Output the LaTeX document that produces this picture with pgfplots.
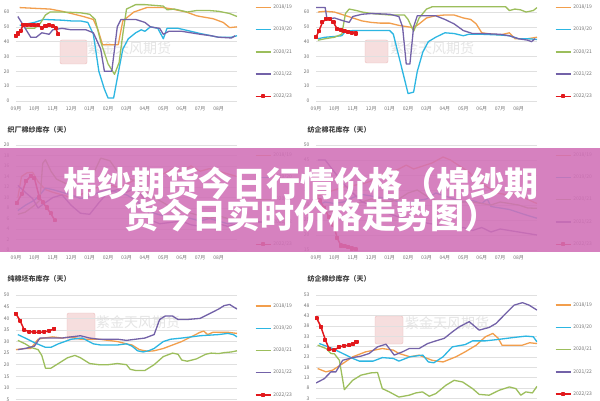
\documentclass[border=0pt]{standalone}
\usepackage{pgfplots}
\pgfplotsset{compat=1.18}
\usepackage{fontspec}
\setmainfont{Noto Sans CJK SC}

\definecolor{c18}{RGB}{242,158,76}
\definecolor{c19}{RGB}{44,182,226}
\definecolor{c20}{RGB}{156,190,92}
\definecolor{c21}{RGB}{115,98,168}
\definecolor{c22}{RGB}{226,24,28}
\definecolor{banner}{RGB}{209,112,183}
\definecolor{wmpink}{RGB}{246,222,222}
\definecolor{wmline}{RGB}{236,190,190}

\pgfplotsset{
  mini/.style={
    scale only axis, width=221pt,
    xmin=0, xmax=12,
    xtick={0,...,11},
    xticklabels={09月,10月,11月,12月,01月,02月,03月,04月,05月,06月,07月,08月},
    axis line style={draw=none},
    major tick length=0pt,
    ymajorgrids, grid style={black!12, line width=0.4pt},
    tick label style={font=\fontsize{5}{6}\selectfont, text=black!55},
    /pgf/number format/assume math mode=true,
    xticklabel style={yshift=-2pt},
    yticklabel style={xshift=-3pt},
    legend cell align=left,
    legend style={at={(1.08,0.95)}, anchor=north west, draw=none, fill=none,
      font=\fontsize{5}{6}\selectfont, text=black!55, row sep=12.8pt,
      inner sep=0pt},
    legend image code/.code={\draw[mark repeat=2,mark phase=2,##1]
      plot coordinates {(0pt,0pt) (7.5pt,0pt) (15pt,0pt)};},
    every axis plot/.append style={line width=1.3pt, line join=round},
  },
  s18/.style={c18, no markers},
  s19/.style={c19, no markers},
  s20/.style={c20, no markers},
  s21/.style={c21, no markers},
  s22/.style={c22, mark=square*, mark size=1.3pt, line width=1.5pt},
}

\begin{document}
\begin{tikzpicture}
\path[use as bounding box] (0pt,0pt) rectangle (600pt,400pt);
\clip (0pt,0pt) rectangle (600pt,400pt);
\fill[white] (0pt,0pt) rectangle (600pt,400pt);

% watermarks
\filldraw[fill=wmpink, draw=wmline, rounded corners=2pt] (60pt,336pt) rectangle (87pt,360pt);
\node[text=black!10, font=\fontsize{14}{14}\selectfont] at (129pt,352pt) {紫金天风期货};
\filldraw[fill=wmpink, draw=wmline, rounded corners=2pt] (365pt,337pt) rectangle (388pt,360pt);
\node[text=black!10, font=\fontsize{14}{14}\selectfont] at (432pt,352pt) {紫金天风期货};
\filldraw[fill=wmpink, draw=wmline, rounded corners=2pt] (67pt,60pt) rectangle (95pt,87pt);
\node[text=black!10, font=\fontsize{14}{14}\selectfont] at (138pt,78pt) {紫金天风期货};
\filldraw[fill=wmpink, draw=wmline, rounded corners=2pt] (375pt,56pt) rectangle (403pt,84pt);
\node[text=black!10, font=\fontsize{14}{14}\selectfont] at (447pt,77pt) {紫金天风期货};

% titles
\node[anchor=west, text=black!75, font=\fontsize{7}{8}\selectfont\bfseries] at (4pt,270pt) {织厂棉纱库存（天）};
\node[anchor=west, text=black!75, font=\fontsize{7}{8}\selectfont\bfseries] at (304pt,270pt) {纺企棉花库存（天）};
\node[anchor=west, text=black!75, font=\fontsize{7}{8}\selectfont\bfseries] at (4pt,121pt) {纯棉坯布库存（天）};
\node[anchor=west, text=black!75, font=\fontsize{7}{8}\selectfont\bfseries] at (304pt,121pt) {纺企棉纱库存（天）};

% ---- top left
\begin{axis}[mini, at={(16pt,299pt)}, anchor=south west, height=103.8pt,
  ymin=0, ymax=70, ytick={0,10,...,60}]
\addplot[s18] coordinates {(0.2,63)(1.0,62.5)(1.85,62)(2.5,60.5)(3,59)(3.65,57)(4.2,55)(4.45,48)(4.7,38)(5.55,38)(5.8,54)(6.4,60)(7.1,63)(8.0,63)(8.5,62)(9.25,60)(9.8,57.5)(10.0,57)(10.7,55.5)(11.25,53)(11.6,49.5)(12,50)};
\addplot[s19] coordinates {(0.2,51)(0.6,52)(1.0,53)(1.5,55)(2.5,54.5)(3.0,54)(3.5,54)(3.9,53)(4.2,45)(4.5,20)(4.8,8)(5.0,2)(5.3,2)(5.6,22)(5.8,35)(6.1,42)(6.5,46)(6.8,48)(7.0,47)(7.3,50)(7.7,49)(8.0,42)(8.2,49)(8.8,49)(9.5,47)(10.0,45.5)(10.6,44)(11.0,43)(11.7,43)(12.0,44)};
\addplot[s20] coordinates {(0.5,49)(1.0,49)(1.3,52)(1.6,58)(1.85,60)(2.5,60)(3.5,59.5)(4.0,58.5)(4.3,55)(4.6,40)(5.0,25)(5.35,18)(5.6,26)(5.8,45)(6.0,62)(6.5,65)(7.0,65)(7.5,64.5)(8.0,64)(8.2,61.5)(8.6,62)(9.3,60)(9.8,61)(10.5,61)(11.0,60.5)(11.6,59)(12,57)};
\addplot[s21] coordinates {(0.1,57)(0.5,49)(0.8,43)(1.1,43)(1.4,46)(1.8,45)(2.0,48)(2.5,49)(3.0,48)(3.8,48)(4.2,46)(4.6,35)(4.8,20)(5.2,20)(5.5,50)(5.7,55)(6.5,55)(7.0,53)(7.3,50)(7.8,49)(8.0,45)(8.3,47)(9.0,47)(9.5,46)(10.0,45)(10.6,44)(11.0,43)(11.7,42.5)(11.9,44)};
\addplot[s22] coordinates {(0.0,44)(0.12,45.5)(0.25,47.5)(0.4,51.5)(0.6,51.5)(0.8,51.5)(1.0,51)(1.2,51)(1.4,49.5)(1.6,50.5)(1.8,51)(2.0,50.5)(2.15,49)(2.3,45)};
\legend{2018/19,2019/20,2020/21,2021/22,2022/23}
\end{axis}

% ---- top right
\begin{axis}[mini, at={(316pt,299pt)}, anchor=south west, height=103.8pt,
  ymin=0, ymax=70, ytick={0,10,...,60}]
\addplot[s18] coordinates {(0.1,60)(0.5,60.5)(1.0,60)(1.5,58)(2.0,56)(2.5,54)(3.0,53)(3.5,52.5)(4.0,52.5)(4.5,51)(5.0,50)(5.3,49.5)(5.6,52)(6.0,56)(6.5,57.5)(7.0,58)(7.5,58)(8.0,56)(8.4,55)(8.7,52)(9.0,46)(9.3,45.5)(10.0,44.5)(10.5,46)(10.8,42)(11.2,42)(11.5,42)(12,43)};
\addplot[s19] coordinates {(0.1,42)(0.5,43)(1.0,43.5)(1.4,44)(1.6,47)(2.0,47.5)(3.0,47.5)(4.0,47.5)(4.2,45)(4.5,30)(4.8,15)(5.0,5)(5.3,6)(5.5,20)(5.8,33)(6.1,40)(6.5,43)(7.0,46)(7.5,45.5)(8.0,44)(8.3,45)(9.0,45)(10.0,44.5)(10.5,44)(11.0,42)(11.5,42)(12,41.5)};
\addplot[s20] coordinates {(0.1,41)(0.5,42)(1.0,43)(1.4,45)(1.6,59)(1.8,62)(2.2,61)(2.5,60)(3.0,59)(4.0,58)(4.8,58)(5.0,55)(5.3,47)(5.6,56)(6.0,62)(6.3,63.5)(7.0,63.5)(8.0,63.5)(9.0,63.5)(10.0,63.5)(10.3,63.5)(10.5,61)(10.8,62)(11.1,61.5)(11.4,60)(11.8,61)(12,63)};
\addplot[s21] coordinates {(0.0,63)(0.5,63)(0.6,55)(1.0,56)(1.5,54)(1.8,53)(2.0,57)(2.5,58.5)(3.0,59)(4.0,58.5)(4.5,57)(4.7,50)(4.9,25)(5.1,25)(5.3,50)(5.5,57.5)(6.0,57.5)(6.5,57.5)(7.0,55)(7.5,52)(8.0,47.5)(8.5,45.5)(9.0,45.5)(10.0,45)(10.5,44)(11.0,42)(11.5,41)(11.7,40)(11.9,42)};
\addplot[s22] coordinates {(0.0,43)(0.15,47)(0.35,53)(0.55,55.5)(0.75,55.5)(0.95,53)(1.15,48.5)(1.35,48)(1.55,47)(1.75,46.5)(1.95,46)(2.15,45.5)};
\legend{2018/19,2019/20,2020/21,2021/22,2022/23}
\end{axis}

% ---- middle left
\begin{axis}[mini, at={(16pt,150pt)}, anchor=south west, height=105pt,
  ymin=0, ymax=20, ytick={0,2,...,20}]
\addplot[s18] coordinates {(0.1,10)(0.3,14)(0.6,14.7)(0.9,14.8)(1.2,13)(1.6,11.5)(2.0,11)(2.5,10.5)(3.0,10)(3.5,10.5)(4.0,11.5)(4.5,12)(5.0,12.5)(5.5,12)(6.0,12.5)(6.5,13.5)(7.0,14)(7.5,15)(8.0,14.5)(8.5,15.5)(9.0,15)(9.5,16)(10.0,15)(10.5,15.5)(11.0,15)(11.5,14.5)(12,14)};
\addplot[s19] coordinates {(0.1,7.5)(0.5,8.5)(1.0,9.5)(1.3,10.5)(1.6,11.8)(2.0,11.5)(2.5,11)(3.0,10.5)(3.5,9.8)(4.0,10.2)(4.5,11)(5.0,11.5)(5.5,11)(6.0,10.5)(6.5,9.5)(7.0,8)(7.5,7)(8.0,6.5)(8.5,6)(9.0,6.5)(9.5,6)(10,5.5)(10.5,6)(11,5.5)(11.5,5)(12,5.3)};
\addplot[s20] coordinates {(0.1,6.8)(0.5,7.2)(1.0,8.5)(1.3,9.5)(1.45,16.5)(1.6,17.2)(1.9,15)(2.2,13.5)(2.8,12.5)(3.5,12)(4.0,13)(4.6,17.5)(5.1,17)(5.5,15)(6.0,14)(6.5,13)(7.0,11.5)(7.5,10)(8.0,9)(8.5,8)(9.0,7.5)(9.5,7)(10,6.5)(10.5,6)(11,6.5)(11.5,6)(12,6)};
\addplot[s21] coordinates {(0.1,12.3)(0.5,11)(0.9,9.8)(1.2,8)(1.5,8.8)(2.0,10)(2.5,10.5)(3.0,8.5)(3.5,7)(4.0,6.8)(4.5,9)(5.0,11)(5.5,11.5)(6.0,11)(6.5,11.8)(7.0,9.5)(7.3,5.7)(7.8,5)(8.5,5.3)(9.0,5.5)(9.5,4.8)(10.0,4.5)(10.5,4.3)(11.0,5)(11.5,4.5)(12,5)};
\addplot[s22] coordinates {(0.04,8.9)(0.31,10.7)(0.54,13.1)(0.8,14.1)(1.0,13.7)(1.27,10.0)(1.45,9.1)(1.66,8.1)(1.88,7.0)(2.1,5.7)};
\legend{2018/19,2019/20,2020/21,2021/22,2022/23}
\end{axis}

% ---- middle right
\begin{axis}[mini, at={(316pt,150pt)}, anchor=south west, height=105pt,
  ymin=15, ymax=50, ytick={15,20,...,50}]
\addplot[s18] coordinates {(0.1,33)(0.5,34)(1.0,35)(1.5,36)(2.0,36.5)(2.5,37)(3.0,38)(3.5,40)(4.0,41)(4.5,42)(4.9,43.3)(5.3,42)(5.8,43)(6.3,44)(6.9,46)(7.3,45)(7.8,43)(8.3,41)(8.8,38)(9.3,36)(9.8,34)(10.3,33.5)(10.8,33.8)(11.3,32.5)(11.8,31)(12,30.5)};
\addplot[s19] coordinates {(0.1,30)(0.5,31)(1.0,30.5)(1.5,31)(2.0,32.5)(2.5,33.5)(3.0,33)(3.5,32.5)(4.0,32)(4.5,31)(5.0,30.5)(5.5,31.5)(6.0,32)(6.5,34)(7.0,33)(7.5,32)(8.0,31)(8.5,31.5)(9.0,30.5)(9.3,32)(9.5,29.5)(10,29)(10.5,28.5)(11,27.5)(11.5,26.5)(12,25.6)};
\addplot[s20] coordinates {(0.1,27)(0.5,27.5)(1.0,28)(1.5,29)(2.0,30)(2.5,31)(3.0,32)(3.5,31.5)(4.0,31)(4.5,32)(5.0,34)(5.5,35)(6.0,33)(6.5,31.5)(7.0,30.5)(7.5,30)(8.0,31)(8.5,31)(9,30.5)(9.5,30)(10,31)(10.5,30.5)(11,30)(11.5,29)(12,28.9)};
\addplot[s21] coordinates {(0.1,45)(0.5,45)(1.0,41)(1.5,37)(2.0,34)(2.5,31)(3.0,30)(3.5,28)(4.0,27)(4.5,26)(5.0,25.5)(5.5,25)(6.0,24)(6.5,23.5)(7.0,22.5)(7.5,22)(8.0,22.5)(8.5,21.5)(9.0,22.5)(9.5,21)(10,22)(10.5,21.5)(11,21)(11.5,20.5)(12,20)};
\addplot[s22] coordinates {(0.0,33)(0.2,31.5)(0.45,29)(0.7,26)(0.95,23.5)(1.15,19)(1.35,16.5)(1.55,16.3)(1.75,16)(1.95,15.5)(2.15,15.2)};
\legend{2018/19,2019/20,2020/21,2021/22,2022/23}
\end{axis}

% ---- bottom left
\begin{axis}[mini, at={(16pt,-11pt)}, anchor=south west, height=115.8pt,
  ymin=0, ymax=50, ytick={0,5,...,50}]
\addplot[s18] coordinates {(0,26.5)(0.5,27)(0.8,27)(1.0,29)(1.2,31)(1.5,31.5)(2.0,32)(2.5,31.5)(3.0,32)(3.5,31)(4.0,31)(4.5,31)(5.0,30.5)(5.5,30)(6.0,29)(6.3,28.5)(6.7,26.5)(7.0,26)(7.2,25.8)(7.5,26)(8.0,27)(8.5,28.5)(9.0,30)(9.5,32)(10.0,34)(10.2,34.5)(10.4,33)(10.7,34)(11.0,34)(11.5,34)(12.0,33.5)};
\addplot[s19] coordinates {(0.1,33)(0.5,31.5)(1.0,29.5)(1.3,28.5)(1.6,27.5)(1.9,27.5)(2.3,29)(3.0,31)(3.6,31.5)(4.2,29)(4.6,28.5)(5.0,28.5)(5.5,28.5)(6.0,29)(6.3,28)(6.6,26)(6.9,25.5)(7.2,26)(7.5,27)(8.0,30)(8.4,31)(9.0,31.5)(10.0,32.5)(11.0,33)(11.5,33.5)(11.8,33)(12.0,32)};
\addplot[s20] coordinates {(0.1,30.5)(0.5,29)(0.8,27.5)(1.2,26.5)(1.4,24)(1.6,18.5)(1.9,18.5)(2.3,20.5)(2.8,23)(3.2,24)(3.5,23)(4.0,20.5)(4.5,20)(5.0,20)(5.5,20.5)(6.0,20)(6.2,18)(6.5,17.5)(7.0,17.5)(7.5,20)(8.0,23.5)(8.5,25)(8.8,24.5)(9.0,22)(9.3,21.5)(9.8,22.5)(10.3,24.5)(10.6,25)(11.0,24.8)(11.3,25.2)(11.7,25.5)(12.0,26)};
\addplot[s21] coordinates {(0.1,26.5)(0.5,27)(1.0,28)(1.3,31.5)(1.6,31.5)(2.0,31.5)(2.5,31.5)(3.0,32)(3.5,32.5)(4.0,31.5)(4.5,31)(5.0,31)(5.5,31)(6.0,30.5)(6.5,31)(7.0,31.5)(7.5,33)(7.8,39.5)(8.1,41)(8.5,41)(8.8,39.5)(9.3,39.5)(10.0,40)(10.5,42)(11.0,44)(11.3,45.5)(11.6,46)(12.0,44)};
\addplot[s22] coordinates {(0.0,42)(0.22,39)(0.45,35)(0.72,34.3)(1.0,34)(1.27,34)(1.54,34.2)(1.8,34.6)(2.08,35.5)};
\legend{2018/19,2019/20,2020/21,2021/22,2022/23}
\end{axis}

% ---- bottom right
\begin{axis}[mini, at={(316pt,1.7pt)}, anchor=south west, height=103.3pt,
  ymin=3, ymax=53, ytick={3,8,...,53}]
\addplot[s18] coordinates {(0.09,17.4)(0.54,15.8)(0.9,16.6)(1.45,19.8)(2.0,23.1)(2.7,25.5)(3.6,27.1)(4.2,26.3)(4.5,24.7)(5.1,23.1)(5.6,23.9)(6.3,21.4)(6.9,20.6)(7.6,23.1)(8.1,25.5)(8.7,28.7)(9.2,32.8)(9.6,34.4)(9.9,32)(10.1,28.7)(10.7,28.7)(11.2,28.7)(11.6,29.9)(12.0,29.5)};
\addplot[s19] coordinates {(0.18,29.5)(0.9,27.1)(1.45,24.7)(2.0,22.3)(2.35,21.0)(3.1,21.0)(3.6,22.7)(4.2,22.3)(4.5,21)(5.1,23.1)(5.8,23.9)(6.1,20.6)(6.4,20.2)(6.9,23.1)(7.4,27.9)(8.1,29)(8.5,30.8)(9.2,30.8)(9.9,31.5)(10.7,32.4)(11.4,33.1)(11.8,32.8)(12.0,30.3)};
\addplot[s20] coordinates {(0.09,28.7)(0.54,27.1)(0.81,24.7)(1.0,24.5)(1.27,21.4)(1.54,7.2)(1.99,11.7)(2.44,14.2)(2.98,15.3)(3.34,15.5)(3.6,7.7)(3.98,6.1)(4.5,3.6)(5.06,4.5)(5.42,5.6)(5.78,6.1)(6.15,4)(6.51,5.3)(7.05,9.3)(7.5,11.7)(7.96,10.9)(8.5,7.7)(8.86,4.9)(9.4,4.5)(9.95,6.9)(10.5,8.5)(10.85,7.7)(11.12,4.5)(11.39,6.1)(11.75,5.6)(12.0,8.8)};
\addplot[s21] coordinates {(0.0,10.4)(0.45,12.5)(0.81,15.8)(1.08,15.8)(1.45,21.4)(1.99,22.7)(2.44,23.4)(2.89,24.7)(3.34,27.9)(3.8,29.2)(4.25,23.9)(4.7,25.5)(5.06,27.1)(5.6,27.1)(6.06,29.5)(6.51,30.8)(6.96,32)(7.41,35.2)(7.78,37.6)(8.32,40.1)(8.86,36)(9.4,37.3)(9.77,39.2)(10.31,44.1)(10.76,48.1)(11.21,49.3)(11.57,48.1)(12.0,45.7)};
\addplot[s22] coordinates {(0.04,41.7)(0.27,37.6)(0.51,31.2)(0.72,26.8)(0.99,26.3)(1.27,27.9)(1.54,28.4)(1.81,28.7)(1.99,29.2)(2.2,30.3)};
\legend{2018/19,2019/20,2020/21,2021/22,2022/23}
\end{axis}

% banner
\fill[banner, fill opacity=0.88] (0pt,148pt) rectangle (600pt,252pt);
\node[text=white, font=\fontsize{34}{34}\selectfont\bfseries] at (301pt,217pt) {棉纱期货今日行情价格（棉纱期};
\node[anchor=west, text=white, font=\fontsize{34}{34}\selectfont\bfseries] at (121pt,185pt) {货今日实时价格走势图）};
\end{tikzpicture}
\end{document}
